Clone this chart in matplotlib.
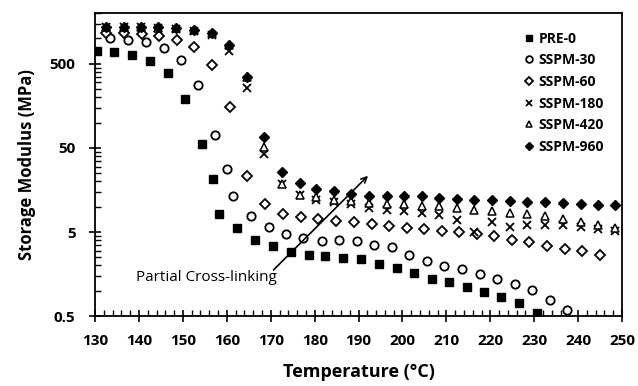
import matplotlib
matplotlib.use("Agg")
import matplotlib.pyplot as plt
from matplotlib.ticker import FixedLocator, FixedFormatter, MultipleLocator, NullFormatter

plt.rcParams['font.family'] = ['Open Sans', 'DejaVu Sans']

# PRE-0 (filled squares)
t_pre0 = [130.5, 134.4, 138.5, 142.5, 146.5, 150.5, 154.3, 156.9, 158.3, 162.4, 166.4,
          170.6, 174.6, 178.7, 182.3, 186.4, 190.5, 194.6, 198.7, 202.6, 206.7, 210.6,
          214.6, 218.6, 222.5, 226.5, 230.6]
e_pre0 = [715, 690, 635, 544, 385, 191, 56, 21.3, 8.17, 5.57, 4.06,
          3.38, 2.90, 2.65, 2.62, 2.46, 2.39, 2.11, 1.89, 1.61, 1.40, 1.26,
          1.11, 0.97, 0.85, 0.71, 0.547]

# SSPM-30 (open circles)
t_30 = [133.4, 137.4, 141.5, 145.6, 149.5, 153.5, 157.4, 160.0, 161.5, 165.5, 169.5,
        173.5, 177.4, 181.6, 185.6, 189.6, 193.5, 197.6, 201.6, 205.5, 209.5, 213.6,
        217.6, 221.6, 225.6, 229.6, 233.6, 237.5]
e_30 = [1011, 966, 897, 770, 559, 280, 71.5, 27.7, 13.4, 7.83, 5.73,
        4.79, 4.2, 3.88, 3.98, 3.88, 3.51, 3.36, 2.67, 2.26, 1.98, 1.80,
        1.57, 1.40, 1.19, 1.01, 0.77, 0.584]

# SSPM-60 (open diamonds)
t_60 = [132.5, 136.6, 140.6, 144.6, 148.6, 152.6, 156.7, 160.7, 164.7, 168.7, 172.7,
        176.8, 180.8, 184.9, 189.0, 193.0, 197.0, 201.0, 204.9, 208.9, 212.9, 216.9,
        220.8, 224.9, 228.8, 232.8, 236.9, 240.9, 245.0]
e_60 = [1153, 1153, 1129, 1057, 966, 787, 484, 155, 22.9, 10.66, 8.18,
        7.47, 7.07, 6.75, 6.52, 6.17, 5.84, 5.64, 5.49, 5.14, 4.96, 4.78,
        4.44, 4.06, 3.77, 3.45, 3.18, 2.95, 2.70]

# shared temperature grid of the three most cross-linked samples
t_hi = [132.5, 136.5, 140.5, 144.4, 148.4, 152.5, 156.6, 160.6, 164.5, 168.5, 172.5,
        176.6, 180.3, 184.3, 188.3, 192.4, 196.4, 200.4, 204.5, 208.4, 212.4, 216.4,
        220.4, 224.4, 228.4, 232.5, 236.5, 240.6, 244.6, 248.5]

# SSPM-180 (crosses)
e_180 = [1350, 1350, 1350, 1330, 1300, 1230, 1098, 715, 258, 42.6, 18.76,
         13.9, 12.12, 11.35, 10.75, 9.68, 9.11, 8.80, 8.52, 7.89, 6.88, 4.96,
         6.52, 5.79, 6.00, 6.08, 6.00, 5.73, 5.41, 5.12]

# SSPM-420 (open triangles)
e_420 = [1370, 1370, 1370, 1345, 1320, 1260, 1150, 830, 350, 51, 18.76,
         13.9, 12.9, 12.05, 11.56, 11.07, 10.9, 10.75, 10.09, 10.09, 9.68, 9.11,
         8.80, 8.40, 8.18, 7.74, 7.11, 6.64, 6.00, 5.56]

# SSPM-960 (filled diamonds)
e_960 = [1377, 1377, 1377, 1352, 1330, 1269, 1160, 836, 351, 67, 25.8,
         19.2, 16.4, 15.2, 14.3, 13.4, 13.3, 13.3, 13.3, 12.8, 12.2, 12.1,
         11.9, 11.8, 11.45, 11.25, 11.0, 10.9, 10.6, 10.57]

fig = plt.figure(figsize=(6.38, 3.86), dpi=100)
ax = fig.add_axes([0.149, 0.181, 0.826, 0.785])

ms = 6
ax.plot(t_pre0, e_pre0, 's', color='black', ms=5.5, label='PRE-0', ls='none')
ax.plot(t_30, e_30, 'o', mfc='white', mec='black', mew=1.3, ms=ms, label='SSPM-30', ls='none')
ax.plot(t_60, e_60, 'D', mfc='white', mec='black', mew=1.3, ms=5, label='SSPM-60', ls='none')
ax.plot(t_hi, e_180, 'x', color='black', mew=1.3, ms=ms, label='SSPM-180', ls='none')
ax.plot(t_hi, e_420, '^', mfc='white', mec='black', mew=1.1, ms=5.5, label='SSPM-420', ls='none')
ax.plot(t_hi, e_960, 'D', color='black', ms=5, label='SSPM-960', ls='none')

ax.set_yscale('log')
ax.set_xlim(130, 250)
ax.set_ylim(0.5, 2000)

ax.xaxis.set_major_locator(MultipleLocator(10))
ax.xaxis.set_minor_locator(MultipleLocator(2))
y_major = [0.5, 5, 50, 500]
ax.yaxis.set_major_locator(FixedLocator(y_major))
ax.yaxis.set_major_formatter(FixedFormatter(['0.5', '5', '50', '500']))
y_minor = [0.5 * k * 10 ** n for n in range(4) for k in range(2, 10)]
ax.yaxis.set_minor_locator(FixedLocator(y_minor))
ax.yaxis.set_minor_formatter(NullFormatter())

ax.tick_params(which='major', direction='inout', length=8, width=1.2, labelsize=11)
ax.tick_params(axis='x', which='major', pad=9)
ax.tick_params(axis='y', which='major', pad=10)
ax.tick_params(which='minor', direction='in', length=4, width=1.0)
ax.tick_params(axis='x', which='both', top=False)
ax.tick_params(axis='y', which='both', right=False)
for lab in ax.get_xticklabels() + ax.get_yticklabels():
    lab.set_fontweight('bold')
for sp in ax.spines.values():
    sp.set_linewidth(1.3)

ax.set_xlabel('Temperature (°C)', fontsize=13, fontweight='bold', labelpad=11)
ax.set_ylabel('Storage Modulus (MPa)', fontsize=12, fontweight='bold', labelpad=10)

ax.annotate('', xy=(192.6, 24.6), xytext=(170.2, 1.68),
            arrowprops=dict(arrowstyle='->', color='black', lw=1.2))
ax.text(155.3, 1.45, 'Partial Cross-linking', fontsize=11, ha='center', va='center')

leg = ax.legend(loc='upper right', bbox_to_anchor=(0.99, 0.98), frameon=False,
                fontsize=10, handletextpad=0.2, labelspacing=0.55, handlelength=1.0,
                markerscale=0.8)
for txt in leg.get_texts():
    txt.set_fontweight('bold')

fig.savefig('out.png', dpi=100)
